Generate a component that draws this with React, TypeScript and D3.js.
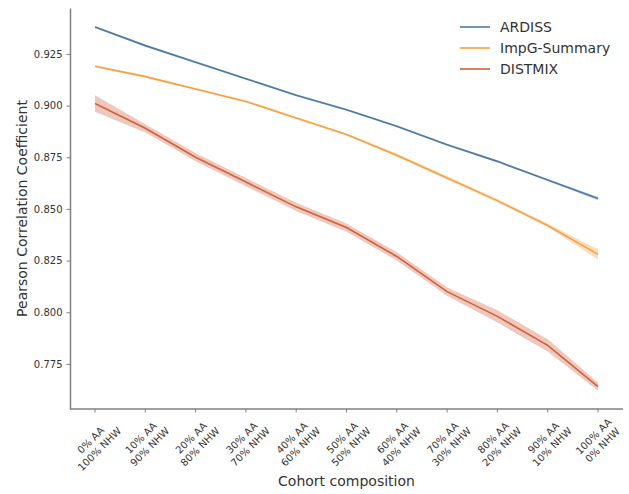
import React, { useEffect, useRef } from 'react';
import * as d3 from 'd3';

const W = 629;
const H = 494;

// cohort composition categories (two-line tick labels)
const aaLabels = ['0% AA', '10% AA', '20% AA', '30% AA', '40% AA', '50% AA', '60% AA', '70% AA', '80% AA', '90% AA', '100% AA'];
const nhwLabels = ['100% NHW', '90% NHW', '80% NHW', '70% NHW', '60% NHW', '50% NHW', '40% NHW', '30% NHW', '20% NHW', '10% NHW', '0% NHW'];

const yTicks = [0.775, 0.8, 0.825, 0.85, 0.875, 0.9, 0.925];

// mean values and confidence band per method
const ardiss = [0.938, 0.929, 0.921, 0.913, 0.905, 0.898, 0.890, 0.881, 0.873, 0.864, 0.855];
const ardissLo = [0.9375, 0.9285, 0.9205, 0.9125, 0.9045, 0.8975, 0.8895, 0.8805, 0.8725, 0.8635, 0.8542];
const ardissHi = [0.9385, 0.9295, 0.9215, 0.9135, 0.9055, 0.8985, 0.8905, 0.8815, 0.8735, 0.8645, 0.8558];

const impg = [0.919, 0.914, 0.908, 0.902, 0.894, 0.886, 0.876, 0.865, 0.854, 0.842, 0.828];
const impgLo = [0.9185, 0.9135, 0.9075, 0.9015, 0.8935, 0.8855, 0.8752, 0.8642, 0.8532, 0.8412, 0.8255];
const impgHi = [0.9195, 0.9145, 0.9085, 0.9025, 0.8945, 0.8865, 0.8768, 0.8658, 0.8548, 0.8428, 0.8305];

const distmix = [0.901, 0.889, 0.875, 0.863, 0.851, 0.841, 0.827, 0.810, 0.798, 0.784, 0.764];
const distmixLo = [0.897, 0.887, 0.873, 0.861, 0.849, 0.839, 0.825, 0.808, 0.795, 0.781, 0.762];
const distmixHi = [0.905, 0.891, 0.877, 0.865, 0.853, 0.843, 0.829, 0.812, 0.801, 0.787, 0.766];

const seriesNames = ['ARDISS', 'ImpG-Summary', 'DISTMIX'];
const colors = ['#4e79a7', '#f9a03f', '#d0603f'];

const App = () => {
  const svgRef = useRef<SVGSVGElement>(null);

  useEffect(() => {
    const svg = d3.select(svgRef.current);
    svg.selectAll('*').remove(); // Clear existing content

    const margin = { top: 8, right: 6, bottom: 85, left: 70 };
    const axisColor = '#808080';
    const textColor = '#333333';
    const font = 'DejaVu Sans, sans-serif';

    const xScale = d3
      .scalePoint<number>()
      .domain(d3.range(aaLabels.length))
      .range([95, 598]);

    const yScale = d3
      .scaleLinear()
      .domain([0.7532, 0.9472])
      .range([H - margin.bottom, margin.top]);

    svg.append('rect').attr('width', W).attr('height', H).attr('fill', '#fff');

    const series = [
      { mean: ardiss, lo: ardissLo, hi: ardissHi },
      { mean: impg, lo: impgLo, hi: impgHi },
      { mean: distmix, lo: distmixLo, hi: distmixHi },
    ];

    const area = d3
      .area<number>()
      .x((d, i) => xScale(i)!)
      .curve(d3.curveLinear);

    const line = d3
      .line<number>()
      .x((d, i) => xScale(i)!)
      .y((d) => yScale(d));

    series.forEach((s, k) => {
      svg
        .append('path')
        .datum(s.lo)
        .attr('d', area.y0((d) => yScale(d)).y1((d, i) => yScale(s.hi[i])))
        .attr('fill', colors[k])
        .attr('opacity', 0.35);
      svg
        .append('path')
        .datum(s.mean)
        .attr('d', line)
        .attr('fill', 'none')
        .attr('stroke', colors[k])
        .attr('stroke-width', 1.6);
    });

    // Draw y-axis
    const yAxis = svg
      .append('g')
      .attr('transform', `translate(${margin.left},0)`)
      .call(d3.axisLeft(yScale).tickValues(yTicks).tickFormat(d3.format('.3f')).tickSize(3.5).tickPadding(4).tickSizeOuter(0));
    yAxis.select('.domain').attr('stroke', axisColor).attr('stroke-width', 1.5);
    yAxis.selectAll('.tick line').attr('stroke', axisColor);
    yAxis.selectAll('.tick text').attr('fill', textColor).style('font-family', font).style('font-size', '10px');

    // Draw x-axis (domain spans whole plot width)
    const x0 = margin.left;
    const x1 = 623;
    const yb = H - margin.bottom;
    const xAxis = svg.append('g');
    xAxis
      .append('line')
      .attr('x1', x0)
      .attr('x2', x1)
      .attr('y1', yb)
      .attr('y2', yb)
      .attr('stroke', axisColor)
      .attr('stroke-width', 1.5);

    aaLabels.forEach((lab, i) => {
      const x = xScale(i)!;
      xAxis
        .append('line')
        .attr('x1', x)
        .attr('x2', x)
        .attr('y1', yb)
        .attr('y2', yb + 3.5)
        .attr('stroke', axisColor);

      const g = xAxis.append('g');
      const t = g
        .append('text')
        .attr('text-anchor', 'middle')
        .attr('fill', textColor)
        .style('font-family', font)
        .style('font-size', '10px');
      t.append('tspan').attr('x', 0).attr('y', -6.2 + 3.6).text(lab);
      t.append('tspan').attr('x', 0).attr('y', 6.2 + 3.6).text(nhwLabels[i]);

      // matplotlib-style: rotated block centred on the tick, top under the tick
      const bw = Math.max(
        (t.node()!.childNodes[0] as SVGTSpanElement).getComputedTextLength(),
        (t.node()!.childNodes[1] as SVGTSpanElement).getComputedTextLength()
      );
      const bh = 24;
      const half = (bw + bh) / (2 * Math.SQRT2);
      g.attr('transform', `translate(${x},${yb + 7 + half}) rotate(-45)`);
    });

    // Axis titles
    svg
      .append('text')
      .attr('transform', `translate(22,${(margin.top + yb) / 2}) rotate(-90)`)
      .attr('text-anchor', 'middle')
      .attr('dy', '0.35em')
      .attr('fill', textColor)
      .style('font-family', font)
      .style('font-size', '14px')
      .text('Pearson Correlation Coefficient');

    svg
      .append('text')
      .attr('x', (x0 + x1) / 2)
      .attr('y', 486)
      .attr('text-anchor', 'middle')
      .attr('fill', textColor)
      .style('font-family', font)
      .style('font-size', '14px')
      .text('Cohort composition');

    // Draw legend
    const legend = svg.append('g').attr('transform', 'translate(460,27)');
    seriesNames.forEach((name, k) => {
      const row = legend.append('g').attr('transform', `translate(0,${k * 21})`);
      row
        .append('line')
        .attr('x1', 0)
        .attr('x2', 30)
        .attr('stroke', colors[k])
        .attr('stroke-width', 1.6);
      row
        .append('text')
        .attr('x', 40)
        .attr('dy', '0.35em')
        .attr('fill', textColor)
        .style('font-family', font)
        .style('font-size', '14px')
        .text(name);
    });
  }, []);

  return (
    <div style={{ position: 'fixed', left: 0, top: 0 }}>
      <svg ref={svgRef} width={W} height={H} style={{ display: 'block' }}></svg>
    </div>
  );
};

export default App;
